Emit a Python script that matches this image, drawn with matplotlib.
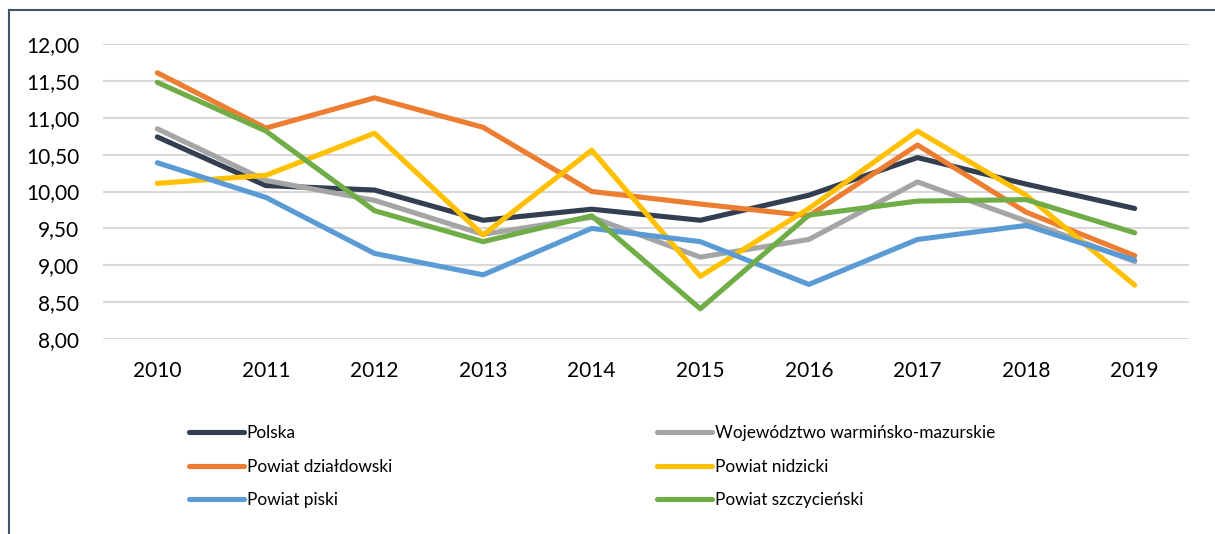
import matplotlib.pyplot as plt
from matplotlib.lines import Line2D

years = ['2010', '2011', '2012', '2013', '2014', '2015', '2016', '2017', '2018', '2019']
names = ['Polska', 'Województwo warmińsko-mazurskie', 'Powiat działdowski',
         'Powiat nidzicki', 'Powiat piski', 'Powiat szczycieński']
polska = [10.74, 10.08, 10.02, 9.61, 9.76, 9.61, 9.95, 10.46, 10.10, 9.77]
wojewodztwo = [10.85, 10.15, 9.88, 9.42, 9.65, 9.11, 9.35, 10.13, 9.60, 9.05]
dzialdowski = [11.61, 10.86, 11.27, 10.87, 10.00, 9.83, 9.67, 10.63, 9.72, 9.13]
nidzicki = [10.11, 10.22, 10.79, 9.41, 10.56, 8.85, 9.77, 10.82, 9.95, 8.73]
piski = [10.39, 9.92, 9.16, 8.87, 9.50, 9.32, 8.74, 9.35, 9.54, 9.07]
szczycienski = [11.48, 10.82, 9.74, 9.32, 9.67, 8.41, 9.68, 9.87, 9.89, 9.44]

series = [polska, wojewodztwo, dzialdowski, nidzicki, piski, szczycienski]
colors = ['#333f50', '#a5a5a5', '#ed7d31', '#ffc000', '#5b9bd5', '#70ad47']

plt.rcParams['font.family'] = ['Lato', 'DejaVu Sans']

fig = plt.figure(figsize=(12.15, 5.34), dpi=100)
ax = fig.add_axes([103 / 1215, 1 - 339 / 534, 1086 / 1215, 295 / 534])

x = range(len(years))
for vals, c in zip(series, colors):
    ax.plot(x, vals, color=c, lw=3.7, solid_capstyle='round', solid_joinstyle='round', zorder=3)

ax.set_xlim(-0.5, len(years) - 0.5)
ax.set_ylim(8, 12)
ax.set_yticks([8 + 0.5 * i for i in range(9)])
ax.set_yticklabels([f'{8 + 0.5 * i:.2f}'.replace('.', ',') for i in range(9)])
ax.set_xticks(list(x))
ax.set_xticklabels(years)
ax.tick_params(length=0, labelsize=15, colors='#000000')
ax.tick_params(axis='x', pad=16)
ax.tick_params(axis='y', pad=17)
ax.grid(axis='y', color='#d9d9d9', lw=1.5, zorder=0)
for s in ax.spines.values():
    s.set_visible(False)

def handle(c):
    return Line2D([], [], color=c, lw=3.7, solid_capstyle='round')

for col, x0 in [(0, 189 / 1215), (1, 657 / 1215)]:
    idx = [col, col + 2, col + 4]
    fig.legend([handle(colors[i]) for i in idx], [names[i] for i in idx],
               loc='upper left', bbox_to_anchor=(x0, 1 - 425 / 534), frameon=False,
               fontsize=12.4, handlelength=3.2, handletextpad=0.15, labelspacing=1.02,
               borderaxespad=0, borderpad=0)

# chart frame, cut off at right and bottom
fig.add_artist(Line2D([9 / 1215, 1], [1 - 10 / 534, 1 - 10 / 534], color='#44546a', lw=1.5))
fig.add_artist(Line2D([9 / 1215, 9 / 1215], [0, 1 - 10 / 534], color='#44546a', lw=1.5))

fig.savefig('out.png', dpi=100)
